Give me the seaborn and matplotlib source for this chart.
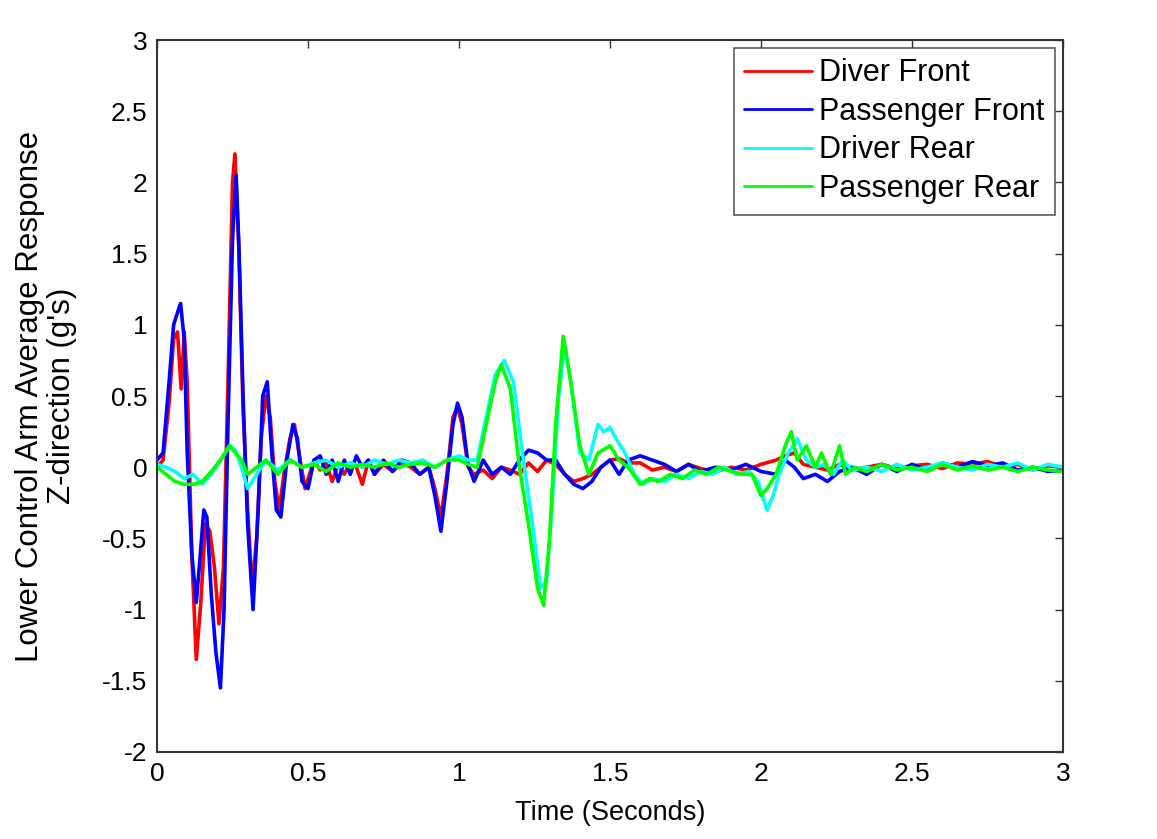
import matplotlib
matplotlib.use("Agg")
import matplotlib.pyplot as plt
import seaborn as sns
import pandas as pd
import numpy as np

# values
t_red = [0.00, 0.02, 0.04, 0.055, 0.068, 0.08, 0.09, 0.10, 0.115, 0.13,
         0.145, 0.16, 0.175, 0.19, 0.205, 0.22, 0.235, 0.25, 0.258, 0.27,
         0.285, 0.30, 0.315, 0.33, 0.345, 0.36, 0.375, 0.39, 0.405, 0.42,
         0.44, 0.455, 0.47, 0.49, 0.505, 0.52, 0.54, 0.56, 0.58, 0.60,
         0.62, 0.64, 0.66, 0.68, 0.70, 0.72, 0.75, 0.78, 0.81, 0.84,
         0.87, 0.90, 0.92, 0.94, 0.96, 0.98, 0.995, 1.01, 1.03, 1.05,
         1.08, 1.11, 1.14, 1.17, 1.20, 1.23, 1.26, 1.29, 1.32, 1.35,
         1.38, 1.41, 1.44, 1.47, 1.50, 1.53, 1.56, 1.60, 1.64, 1.68,
         1.72, 1.76, 1.80, 1.85, 1.90, 1.95, 2.00, 2.05, 2.08, 2.11,
         2.14, 2.18, 2.22, 2.26, 2.30, 2.35, 2.40, 2.45, 2.50, 2.55,
         2.60, 2.65, 2.70, 2.75, 2.80, 2.85, 2.90, 2.95, 3.00]
v_red = [0.00, 0.05, 0.45, 0.90, 0.95, 0.55, 0.95, 0.60, -0.60, -1.35,
         -0.95, -0.40, -0.45, -0.70, -1.10, -0.70, 0.60, 2.00, 2.20, 1.60,
         0.40, -0.30, -0.85, -0.50, 0.20, 0.50, 0.35, -0.10, -0.30, -0.05,
         0.20, 0.30, 0.10, -0.15, -0.05, 0.05, -0.02, 0.03, -0.10, 0.02,
         -0.05, 0.03, 0.00, -0.12, 0.05, -0.05, 0.02, -0.03, 0.03, 0.00,
         -0.05, 0.00, -0.15, -0.35, -0.05, 0.35, 0.42, 0.30, 0.00, -0.05,
         -0.02, -0.08, 0.00, -0.02, -0.05, 0.03, -0.03, 0.05, 0.02, -0.05,
         -0.10, -0.08, -0.05, 0.00, 0.05, 0.06, 0.03, 0.03, -0.02, 0.00,
         -0.03, 0.02, -0.01, -0.03, 0.00, -0.02, 0.02, 0.05, 0.08, 0.10,
         0.02, 0.00, -0.02, 0.02, -0.02, 0.00, 0.02, -0.01, 0.01, 0.02,
         -0.01, 0.03, 0.02, 0.04, 0.00, 0.02, -0.02, 0.01, 0.00]

t_blue = [0.00, 0.02, 0.04, 0.055, 0.07, 0.078, 0.09, 0.10, 0.115, 0.13,
          0.14, 0.155, 0.165, 0.18, 0.195, 0.21, 0.222, 0.235, 0.25, 0.262,
          0.272, 0.285, 0.30, 0.318, 0.335, 0.35, 0.365, 0.38, 0.395, 0.41,
          0.43, 0.45, 0.465, 0.48, 0.50, 0.52, 0.54, 0.56, 0.58, 0.60,
          0.62, 0.64, 0.66, 0.68, 0.70, 0.72, 0.75, 0.78, 0.81, 0.84,
          0.87, 0.90, 0.92, 0.94, 0.96, 0.98, 0.995, 1.01, 1.03, 1.05,
          1.08, 1.11, 1.14, 1.17, 1.20, 1.23, 1.26, 1.29, 1.32, 1.35,
          1.38, 1.41, 1.44, 1.47, 1.50, 1.53, 1.56, 1.60, 1.64, 1.68,
          1.72, 1.76, 1.80, 1.85, 1.90, 1.95, 2.00, 2.05, 2.08, 2.11,
          2.14, 2.18, 2.22, 2.26, 2.30, 2.35, 2.40, 2.45, 2.50, 2.55,
          2.60, 2.65, 2.70, 2.75, 2.80, 2.85, 2.90, 2.95, 3.00]
v_blue = [0.05, 0.10, 0.60, 1.00, 1.10, 1.15, 0.90, 0.10, -0.60, -0.95,
          -0.70, -0.30, -0.35, -0.90, -1.30, -1.55, -1.00, 0.30, 1.60, 2.05,
          1.50, 0.50, -0.40, -1.00, -0.30, 0.50, 0.60, 0.10, -0.30, -0.35,
          0.05, 0.30, 0.20, -0.10, -0.15, 0.05, 0.08, -0.05, 0.05, -0.10,
          0.05, -0.05, 0.08, 0.00, 0.05, -0.05, 0.05, -0.03, 0.05, 0.03,
          -0.05, 0.00, -0.20, -0.45, -0.10, 0.30, 0.45, 0.35, 0.02, -0.10,
          0.05, -0.05, 0.00, -0.05, 0.05, 0.12, 0.10, 0.05, 0.05, -0.05,
          -0.12, -0.15, -0.10, 0.00, 0.05, -0.05, 0.05, 0.08, 0.05, 0.02,
          -0.03, 0.02, -0.03, 0.00, -0.02, 0.02, -0.03, -0.05, 0.05, 0.00,
          -0.08, -0.05, -0.10, -0.03, 0.00, -0.05, 0.02, -0.03, 0.02, -0.02,
          0.03, 0.00, 0.04, 0.01, 0.03, -0.02, 0.00, -0.03, -0.02]

t_cyan = [0.00, 0.03, 0.06, 0.09, 0.12, 0.15, 0.18, 0.21, 0.24, 0.26,
          0.28, 0.30, 0.33, 0.36, 0.40, 0.44, 0.48, 0.52, 0.56, 0.60,
          0.64, 0.68, 0.72, 0.76, 0.80, 0.84, 0.88, 0.92, 0.96, 1.00,
          1.03, 1.06, 1.09, 1.12, 1.15, 1.18, 1.21, 1.24, 1.27, 1.29,
          1.31, 1.33, 1.35, 1.37, 1.40, 1.43, 1.46, 1.48, 1.50, 1.52,
          1.55, 1.58, 1.61, 1.64, 1.68, 1.72, 1.76, 1.80, 1.84, 1.88,
          1.92, 1.96, 1.99, 2.02, 2.04, 2.06, 2.09, 2.12, 2.15, 2.18,
          2.21, 2.24, 2.27, 2.30, 2.35, 2.40, 2.45, 2.50, 2.55, 2.60,
          2.65, 2.70, 2.75, 2.80, 2.85, 2.90, 2.95, 3.00]
v_cyan = [0.02, 0.00, -0.03, -0.08, -0.05, -0.12, -0.05, 0.05, 0.15, 0.12,
          0.00, -0.15, -0.05, 0.05, -0.02, 0.05, 0.00, 0.03, 0.05, 0.00,
          0.03, 0.00, 0.05, 0.02, 0.05, 0.03, 0.05, 0.00, 0.05, 0.08,
          0.05, 0.05, 0.35, 0.65, 0.75, 0.60, 0.10, -0.35, -0.85, -0.80,
          -0.20, 0.50, 0.85, 0.60, 0.10, 0.05, 0.30, 0.25, 0.28, 0.20,
          0.10, -0.05, -0.12, -0.08, -0.10, -0.05, -0.08, -0.03, -0.05, 0.00,
          -0.05, -0.03, -0.10, -0.30, -0.20, -0.05, 0.10, 0.20, 0.05, 0.00,
          0.02, -0.05, 0.05, -0.02, 0.00, -0.03, 0.02, -0.02, 0.00, 0.03,
          0.00, -0.02, 0.02, 0.00, 0.03, -0.02, 0.02, 0.00]

t_green = [0.00, 0.03, 0.06, 0.09, 0.12, 0.15, 0.18, 0.21, 0.24, 0.26,
           0.28, 0.30, 0.33, 0.36, 0.40, 0.44, 0.48, 0.52, 0.56, 0.60,
           0.64, 0.68, 0.72, 0.76, 0.80, 0.84, 0.88, 0.92, 0.96, 1.00,
           1.03, 1.06, 1.09, 1.12, 1.14, 1.17, 1.20, 1.23, 1.26, 1.28,
           1.30, 1.32, 1.345, 1.37, 1.40, 1.43, 1.46, 1.50, 1.53, 1.56,
           1.60, 1.63, 1.66, 1.70, 1.74, 1.78, 1.82, 1.86, 1.90, 1.94,
           1.97, 2.00, 2.02, 2.05, 2.08, 2.10, 2.12, 2.15, 2.18, 2.20,
           2.23, 2.26, 2.28, 2.31, 2.35, 2.40, 2.45, 2.50, 2.55, 2.60,
           2.65, 2.70, 2.75, 2.80, 2.85, 2.90, 2.95, 3.00]
v_green = [0.00, -0.05, -0.10, -0.12, -0.12, -0.10, -0.03, 0.05, 0.15, 0.10,
           0.05, -0.05, 0.00, 0.05, -0.05, 0.05, 0.00, 0.02, -0.03, 0.03,
           0.00, 0.02, 0.00, 0.03, 0.00, 0.02, 0.03, 0.00, 0.05, 0.05,
           0.02, 0.00, 0.30, 0.60, 0.72, 0.55, 0.00, -0.40, -0.85, -0.97,
           -0.50, 0.30, 0.92, 0.60, 0.15, -0.05, 0.10, 0.15, 0.05, 0.00,
           -0.12, -0.08, -0.10, -0.05, -0.08, -0.02, -0.05, 0.00, -0.03, -0.05,
           -0.05, -0.20, -0.15, -0.05, 0.15, 0.25, 0.05, 0.15, 0.00, 0.10,
           -0.05, 0.15, -0.05, 0.00, -0.03, 0.02, -0.02, 0.00, -0.03, 0.02,
           -0.02, 0.01, -0.02, 0.00, -0.03, 0.00, -0.02, -0.03]

series_names = ["Diver Front", "Passenger Front", "Driver Rear", "Passenger Rear"]
series_colors = ["#ff0000", "#0000ff", "#00ffff", "#00ff00"]
x_ticks = [0, 0.5, 1, 1.5, 2, 2.5, 3]
x_tick_labels = ["0", "0.5", "1", "1.5", "2", "2.5", "3"]
y_ticks = [-2, -1.5, -1, -0.5, 0, 0.5, 1, 1.5, 2, 2.5, 3]
y_tick_labels = ["-2", "-1.5", "-1", "-0.5", "0", "0.5", "1", "1.5", "2", "2.5", "3"]

frames = []
for name, t, v in zip(series_names,
                      [t_red, t_blue, t_cyan, t_green],
                      [v_red, v_blue, v_cyan, v_green]):
    frames.append(pd.DataFrame({"time": t, "value": v, "series": name}))
df = pd.concat(frames, ignore_index=True)

sns.set_style("white")
plt.rcParams['font.family'] = ['Liberation Sans', 'DejaVu Sans']
plt.rcParams.update({'text.color': 'black', 'axes.labelcolor': 'black',
                     'xtick.color': 'black', 'ytick.color': 'black'})

fig = plt.figure(figsize=(11.57, 8.39), dpi=100)
ax = fig.add_axes([0.1357, 0.1037, 0.7831, 0.8486])

sns.lineplot(data=df, x="time", y="value", hue="series",
             hue_order=series_names,
             palette=dict(zip(series_names, series_colors)),
             sort=False, estimator=None, linewidth=2.6, ax=ax)

ax.set_xlim(0, 3)
ax.set_ylim(-2, 3)
ax.set_xticks(x_ticks)
ax.set_xticklabels(x_tick_labels)
ax.set_yticks(y_ticks)
ax.set_yticklabels(y_tick_labels)
ax.tick_params(direction="in", top=True, right=True, length=6,
               width=1, color="#333333", labelcolor="black",
               labelsize=19, pad=7)
for s in ax.spines.values():
    s.set_color("#333333")
    s.set_linewidth(1.5)

ax.set_xlabel("Time (Seconds)", fontsize=19.5, labelpad=10, color="black")
ax.set_ylabel("Lower Control Arm Average Response\nZ-direction (g's)",
              fontsize=22.5, labelpad=18, linespacing=1.1, color="black")

leg = ax.legend(loc="upper right", fontsize=22, frameon=True, fancybox=False,
                borderaxespad=0.25, handlelength=2.2, labelspacing=0.28,
                handletextpad=0.25, borderpad=0.35)
leg.get_frame().set_edgecolor("#333333")
leg.get_frame().set_linewidth(1.2)
for line in leg.get_lines():
    line.set_linewidth(2.0)
for txt in leg.get_texts():
    txt.set_color("black")

fig.savefig("out.png", dpi=100, facecolor="white")
